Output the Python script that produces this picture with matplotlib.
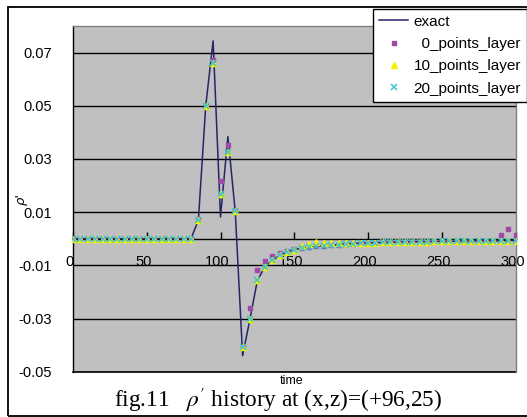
import numpy as np
import matplotlib
matplotlib.use("Agg")
import matplotlib.pyplot as plt
from matplotlib.patches import Rectangle
from matplotlib.transforms import ScaledTranslation

plt.rcParams['font.family'] = ['Liberation Sans', 'DejaVu Sans']
plt.rcParams['mathtext.fontset'] = 'stix'

# ---- data -------------------------------------------------------------
time = [0, 5, 10, 15, 20, 25, 30, 35, 40, 45, 50, 55, 60, 65, 70, 75, 80,
        85, 90, 95, 100, 105, 110, 115, 120, 125, 130,
        135, 140, 145, 150, 155, 160, 165, 170, 175, 180,
        185, 190, 195, 200, 205, 210, 215, 220, 225, 230,
        235, 240, 245, 250, 255, 260, 265, 270, 275, 280,
        285, 290, 295, 300]

exact = [0, 0, 0, 0, 0, 0, 0, 0, 0, 0, 0, 0, 0, 0, 0, 0, 0,
         0.0070, 0.0500, 0.0744, 0.0082, 0.0384, 0.0103, -0.0440, -0.0301, -0.0157, -0.0106,
         -0.0081, -0.0063, -0.0050, -0.0041, -0.0035, -0.0031, -0.0029, -0.0027, -0.0025, -0.0022,
         -0.0020, -0.0018, -0.0017, -0.0016, -0.0015, -0.0014, -0.0013, -0.0013, -0.0012, -0.0012,
         -0.0011, -0.0011, -0.0010, -0.0010, -0.0010, -0.0009, -0.0009, -0.0009, -0.0008, -0.0008,
         -0.0008, -0.0008, -0.0007, -0.0007]

pts0 = [0, 0, 0, 0, 0, 0, 0, 0, 0, 0, 0, 0, 0, 0, 0, 0, 0,
        0.0070, 0.0500, 0.0672, 0.0217, 0.0354, 0.0103, -0.0408, -0.0261, -0.0116, -0.0082,
        -0.0065, -0.0052, -0.0046, -0.0040, -0.0035, -0.0031, -0.0029, -0.0027, -0.0025, -0.0022,
        -0.0020, -0.0018, -0.0017, -0.0016, -0.0015, -0.0014, -0.0013, -0.0013, -0.0012, -0.0012,
        -0.0011, -0.0011, -0.0010, -0.0010, -0.0010, -0.0009, -0.0009, -0.0009, -0.0008, -0.0008,
        -0.0008, 0.0013, 0.0037, 0.0013]

pts10 = [0, 0, 0, 0, 0, 0, 0, 0, 0, 0, 0, 0, 0, 0, 0, 0, 0,
         0.0070, 0.0500, 0.0660, 0.0170, 0.0325, 0.0103, -0.0408, -0.0301, -0.0157, -0.0106,
         -0.0081, -0.0063, -0.0050, -0.0041, -0.0026, -0.0018, -0.0014, -0.0015, -0.0016, -0.0017,
         -0.0017, -0.0017, -0.0017, -0.0016, -0.0015, -0.0014, -0.0013, -0.0013, -0.0012, -0.0012,
         -0.0011, -0.0011, -0.0010, -0.0010, -0.0010, -0.0009, -0.0009, -0.0009, -0.0008, -0.0008,
         -0.0008, -0.0008, -0.0007, -0.0007]

pts20 = [0, 0, 0, 0, 0, 0, 0, 0, 0, 0, 0, 0, 0, 0, 0, 0, 0,
         0.0070, 0.0500, 0.0660, 0.0170, 0.0325, 0.0103, -0.0408, -0.0301, -0.0157, -0.0106,
         -0.0081, -0.0063, -0.0050, -0.0041, -0.0035, -0.0031, -0.0029, -0.0027, -0.0025, -0.0022,
         -0.0020, -0.0018, -0.0017, -0.0016, -0.0015, -0.0014, -0.0013, -0.0013, -0.0012, -0.0012,
         -0.0011, -0.0011, -0.0010, -0.0010, -0.0010, -0.0009, -0.0009, -0.0009, -0.0008, -0.0008,
         -0.0008, -0.0008, -0.0007, -0.0007]

series_labels = ['exact', '  0_points_layer', '10_points_layer', '20_points_layer']
x_ticks = [0, 50, 100, 150, 200, 250, 300]
y_ticks = [-0.05, -0.03, -0.01, 0.01, 0.03, 0.05, 0.07]
title_text = "fig.11   $\\rho'$ history at (x,z)=(+96,25)"
x_label = 'time'
y_label = "\u03c1'"

# ---- figure -----------------------------------------------------------
W, H = 527, 417
fig = plt.figure(figsize=(W / 100, H / 100), dpi=100)
fig.patch.set_facecolor('white')

left, right, top, bottom = 73, 515.5, 26, 371.7
ax = fig.add_axes([left / W, 1 - bottom / H, (right - left) / W, (bottom - top) / H])
ax.set_facecolor('#C0C0C0')

ln, = ax.plot(time, exact, color='#25256A', lw=1.1, zorder=3, label=series_labels[0])
m0, = ax.plot(time, pts0, ls='none', marker='s', ms=3.4, color='#A04AA8', mec='#A04AA8',
              zorder=4, label=series_labels[1])
m1, = ax.plot(time, pts10, ls='none', marker='^', ms=4.0, color='#F2F200', mec='#F2F200',
              zorder=5, label=series_labels[2])
m2, = ax.plot(time, pts20, ls='none', marker='x', ms=3.8, mew=1.1, color='#3CC3D2',
              zorder=6, label=series_labels[3])

ax.set_xlim(0, 300)
ax.set_ylim(-0.05, 0.08)
ax.set_xticks(x_ticks)
ax.set_yticks(y_ticks)
ax.set_yticklabels(['%.2f' % v for v in y_ticks])

ax.spines['bottom'].set_position(('data', 0))
ax.spines['bottom'].set_color('black')
ax.spines['bottom'].set_linewidth(1.0)
ax.spines['left'].set_color('black')
ax.spines['left'].set_linewidth(1.0)
for s in ('top', 'right'):
    ax.spines[s].set_color('#808080')
    ax.spines[s].set_linewidth(1.0)

ax.yaxis.grid(True, color='black', lw=1.0, zorder=1)
ax.set_axisbelow(True)
ax.axhline(-0.05, color='black', lw=1.2, clip_on=False, zorder=1)

ax.tick_params(axis='x', direction='in', length=5, width=1, color='black',
               pad=12, labelsize=10.5)
ax.tick_params(axis='y', length=0, pad=15, labelsize=10.5)
for lab in ax.get_xticklabels():
    lab.set_transform(lab.get_transform() + ScaledTranslation(-0.03, 0, fig.dpi_scale_trans))

# legend
leg = ax.legend(handles=[ln, m0, m1, m2], loc='upper left',
                bbox_to_anchor=(373 / W, 1 - 8.5 / H), bbox_transform=fig.transFigure,
                frameon=True, fancybox=False, framealpha=1, edgecolor='black',
                fontsize=11, handlelength=1.9, handletextpad=0.35,
                borderpad=0.4, labelspacing=0.55, borderaxespad=0)
leg.get_frame().set_linewidth(1.0)
leg.set_zorder(20)

# figure border (right edge lies outside the picture)
fig.add_artist(Rectangle((8 / W, 1 - 416 / H), (535 - 8) / W, (416 - 7) / H,
                         transform=fig.transFigure, fill=False, edgecolor='black',
                         lw=1.3, zorder=0))

fig.text(21 / W, 1 - 199 / H, y_label, rotation=90, ha='center', va='center',
         fontsize=9.5, family=['DejaVu Sans'], style='italic')
fig.text(292 / W, 1 - 380.5 / H, x_label, ha='center', va='center', fontsize=9)

t = fig.text(278.5 / W, 1 - 407.5 / H, title_text, ha='center', va='baseline',
             fontsize=15, family=['Liberation Serif', 'DejaVu Serif'])
fig.canvas.draw()
w = t.get_window_extent().width
t.set_fontsize(15 * 330 / w)

fig.savefig('out.png', dpi=100)
